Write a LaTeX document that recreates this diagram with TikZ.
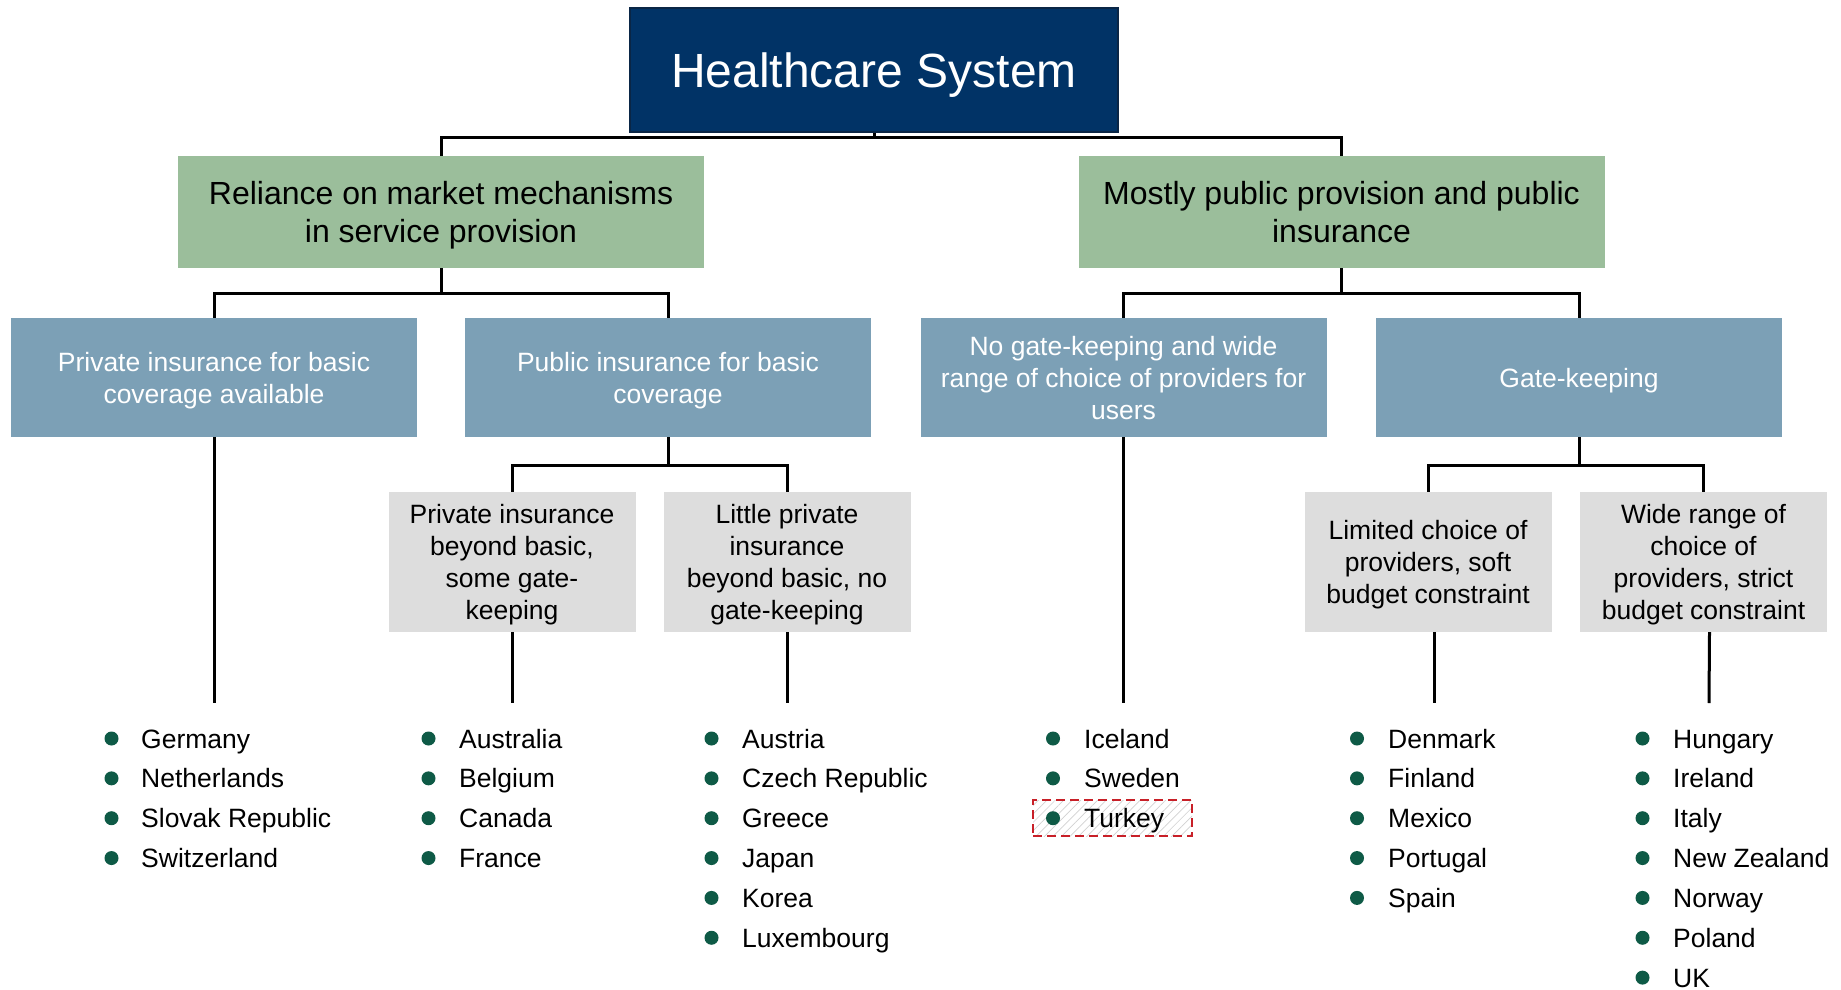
\documentclass[tikz,border=0pt]{standalone}
\usepackage{fontspec}
\setmainfont{Liberation Sans}
\usetikzlibrary{patterns.meta}
\definecolor{navy}{RGB}{1,51,102}
\definecolor{navyedge}{RGB}{10,38,70}
\definecolor{sage}{RGB}{155,190,155}
\definecolor{steel}{RGB}{124,160,182}
\definecolor{lightgrey}{RGB}{221,221,221}
\definecolor{dotgreen}{RGB}{14,90,70}
\definecolor{alertred}{RGB}{200,32,40}

\begin{document}
\begin{tikzpicture}[x=1pt,y=-1pt,
  box/.style={rectangle, inner sep=0pt, align=center, text depth=0pt},
  titlebox/.style={box, fill=navy, draw=navyedge, line width=2pt, text=white,
    font=\fontsize{48}{56}\selectfont,
    minimum width=488pt, minimum height=124pt},
  levelone/.style={box, fill=sage, text=black,
    font=\fontsize{32}{37.5}\selectfont,
    minimum width=526pt, minimum height=112pt},
  leveltwo/.style={box, fill=steel, text=white,
    font=\fontsize{26.5}{32}\selectfont,
    minimum width=406pt, minimum height=119pt},
  levelthree/.style={box, fill=lightgrey, text=black,
    font=\fontsize{26.5}{31.8}\selectfont,
    minimum width=247pt, minimum height=140pt},
  conn/.style={draw=black, line width=3pt, line join=miter},
  dot/.style={circle, fill=dotgreen, inner sep=0pt, minimum size=14pt},
  country/.style={anchor=base west, inner sep=0pt, font=\fontsize{26.5}{32}\selectfont},
  flagged/.style={rectangle, draw=alertred, line width=2.2pt, dash pattern=on 9pt off 5pt,
    pattern={Lines[angle=45,distance=6pt,line width=0.7pt]}, pattern color=black!18,
    minimum width=159pt, minimum height=36pt, inner sep=0pt},
]
\fill[white] (0,0) rectangle (1841,990);
\useasboundingbox (0,0) rectangle (1841,990);

% tree boxes
\node[titlebox] (top) at (874,70) {Healthcare System};

\node[levelone] (gL) at (441,212) {Reliance on market mechanisms\\in service provision};
\node[levelone] (gR) at (1341.5,212) {Mostly public provision and public\\insurance};

\node[leveltwo] (b1) at (214,377.5) {Private insurance for basic\\coverage available};
\node[leveltwo] (b2) at (668,377.5) {Public insurance for basic\\coverage};
\node[leveltwo] (b3) at (1123.5,377.5) {No gate-keeping and wide\\range of choice of providers for\\users};
\node[leveltwo] (b4) at (1579,377.5) {Gate-keeping};

\node[levelthree] (g1) at (512,562) {Private insurance\\beyond basic,\\some gate-\\keeping};
\node[levelthree] (g2) at (787,562) {Little private\\insurance\\beyond basic, no\\gate-keeping};
\node[levelthree] (g3) at (1428,562) {Limited choice of\\providers, soft\\budget constraint};
\node[levelthree] (g4) at (1703.5,562) {Wide range of\\choice of\\providers, strict\\budget constraint};

% junction points of the elbow connectors
\coordinate (j0) at (874,137);
\coordinate (j1) at (441,293);
\coordinate (j2) at (1341.5,293);
\coordinate (j3) at (668,465);
\coordinate (j4) at (1579,465);

% free ends above the country lists
\coordinate (e1) at (214,703);
\coordinate (e2) at (512,703);
\coordinate (e3) at (787,703);
\coordinate (e4) at (1123.5,703);
\coordinate (e5) at (1434,703);
\coordinate (e6) at (1709,703);

% connectors
\draw[conn] (top.south) -- (j0);
\draw[conn] (gL.north) |- (j0) -| (gR.north);
\draw[conn] (gL.south) -- (j1);
\draw[conn] (b1.north) |- (j1) -| (b2.north);
\draw[conn] (gR.south) -- (j2);
\draw[conn] (b3.north) |- (j2) -| (b4.north);
\draw[conn] (b2.south) -- (j3);
\draw[conn] (g1.north) |- (j3) -| (g2.north);
\draw[conn] (b4.south) -- (j4);
\draw[conn] (g3.north) |- (j4) -| (g4.north);

\draw[conn] (b1.south) -- (e1);
\draw[conn] (g1.south) -- (e2);
\draw[conn] (g2.south) -- (e3);
\draw[conn] (b3.south) -- (e4);
\draw[conn] ([xshift=6pt]g3.south) -- (e5);
\draw[conn] ([xshift=6pt]g4.south) -- (e6);

% highlighted entry
\node[flagged] (turkeybox) at (1112.5,818) {};

% country lists
\foreach \name [count=\i from 0] in {Germany, Netherlands, Slovak Republic, Switzerland}{
  \node[dot] (la\i) at (111.5,{738.5+39.85*\i}) {};
  \node[country] (ta\i) at (141,{748+39.85*\i}) {\name};
}
\foreach \name [count=\i from 0] in {Australia, Belgium, Canada, France}{
  \node[dot] (lb\i) at (428.5,{738.5+39.85*\i}) {};
  \node[country] (tb\i) at (459,{748+39.85*\i}) {\name};
}
\foreach \name [count=\i from 0] in {Austria, Czech Republic, Greece, Japan, Korea, Luxembourg}{
  \node[dot] (lc\i) at (711.5,{738.5+39.85*\i}) {};
  \node[country] (tc\i) at (742,{748+39.85*\i}) {\name};
}
\foreach \name [count=\i from 0] in {Iceland, Sweden, Turkey}{
  \node[dot] (ld\i) at (1053,{738.5+39.85*\i}) {};
  \node[country] (td\i) at (1084,{748+39.85*\i}) {\name};
}
\foreach \name [count=\i from 0] in {Denmark, Finland, Mexico, Portugal, Spain}{
  \node[dot] (le\i) at (1357,{738.5+39.85*\i}) {};
  \node[country] (te\i) at (1388,{748+39.85*\i}) {\name};
}
\foreach \name [count=\i from 0] in {Hungary, Ireland, Italy, New Zealand, Norway, Poland, UK}{
  \node[dot] (lf\i) at (1642.5,{738.5+39.85*\i}) {};
  \node[country] (tf\i) at (1673,{748+39.85*\i}) {\name};
}
\end{tikzpicture}
\end{document}
